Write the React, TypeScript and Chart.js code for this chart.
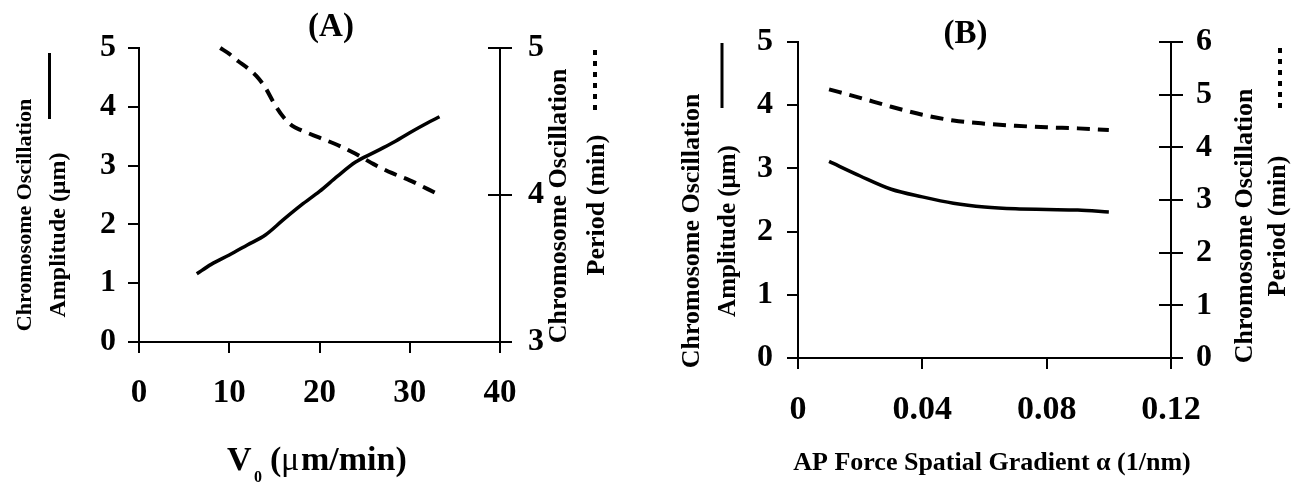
import React, { useEffect, useRef } from 'react';
import { Chart, registerables } from 'chart.js';

Chart.register(...registerables);

const FONT = "'Liberation Serif', 'Times New Roman', serif";

// ---- Panel A data ----
const v0Amp = [6.4, 8, 10, 12, 14, 16, 18, 20, 22, 24, 26, 28, 30, 32, 33.3];
const ampA = [1.16, 1.32, 1.48, 1.65, 1.82, 2.08, 2.33, 2.56, 2.82, 3.06, 3.22, 3.38, 3.56, 3.73, 3.83];
const v0Per = [9, 10, 11, 12, 13, 14, 15, 16, 17, 18, 20, 22, 24, 26, 28, 30, 32, 33.3];
const perA = [5.0, 4.96, 4.91, 4.865, 4.81, 4.73, 4.62, 4.53, 4.47, 4.44, 4.39, 4.34, 4.28, 4.21, 4.15, 4.1, 4.04, 4.0];
const xTicksA = ['0', '10', '20', '30', '40'];
const yTicksA = ['0', '1', '2', '3', '4', '5'];
const y2TicksA = ['3', '4', '5'];

// ---- Panel B data ----
const alphaB = [0.01, 0.02, 0.03, 0.04, 0.05, 0.06, 0.07, 0.08, 0.09, 0.1];
const ampB = [3.11, 2.88, 2.67, 2.55, 2.45, 2.39, 2.36, 2.35, 2.34, 2.31];
const perB = [5.1, 4.94, 4.77, 4.62, 4.51, 4.45, 4.41, 4.38, 4.36, 4.33];
const xTicksB = ['0', '0.04', '0.08', '0.12'];
const yTicksB = ['0', '1', '2', '3', '4', '5'];
const y2TicksB = ['0', '1', '2', '3', '4', '5', '6'];

const decor = {
  id: 'decor',
  afterDraw(chart: any, _args: any, opts: any) {
    const ctx = chart.ctx;
    ctx.save();
    ctx.fillStyle = '#000';
    ctx.strokeStyle = '#000';
    const s = chart.scales.y2;
    if (s) {
      ctx.lineWidth = 2;
      s.ticks.forEach((t: any) => {
        const y = Math.round(s.getPixelForValue(t.value));
        ctx.beginPath();
        ctx.moveTo(chart.chartArea.right - 12, y);
        ctx.lineTo(chart.chartArea.right, y);
        ctx.stroke();
      });
    }
    (opts.texts || []).forEach((t: any) => {
      ctx.save();
      ctx.font = `${t.weight || 'bold'} ${t.size}px ${FONT}`;
      ctx.textAlign = t.align || 'center';
      ctx.textBaseline = t.baseline || 'middle';
      ctx.translate(t.x, t.y);
      if (t.rot) ctx.rotate(-Math.PI / 2);
      ctx.fillText(t.text, 0, 0);
      ctx.restore();
    });
    (opts.bars || []).forEach((b: any) => {
      ctx.save();
      ctx.lineWidth = b.w;
      ctx.setLineDash(b.dash || []);
      ctx.beginPath();
      ctx.moveTo(b.x, b.y1);
      ctx.lineTo(b.x, b.y2);
      ctx.stroke();
      ctx.restore();
    });
    ctx.restore();
  },
};

function axis(opts: any) {
  return {
    type: 'linear',
    position: opts.position,
    min: opts.min,
    max: opts.max,
    border: { display: true, color: '#000', width: 2 },
    grid: {
      drawOnChartArea: false,
      drawTicks: true,
      tickLength: opts.tickLength ?? 11,
      tickWidth: 2,
      tickColor: '#000',
      color: '#000',
      lineWidth: 2,
    },
    ticks: {
      color: '#000',
      font: { family: FONT, weight: 'bold', size: opts.size },
      padding: opts.pad,
      stepSize: opts.step,
      autoSkip: false,
      maxRotation: 0,
      callback: (_v: any, i: number) => opts.labels[i],
    },
    afterFit: (scale: any) => {
      if (opts.width != null) scale.width = opts.width;
      if (opts.height != null) scale.height = opts.height;
    },
  };
}

function makeConfig(p: any) {
  return {
    type: 'line',
    data: {
      datasets: [
        {
          data: p.ampX.map((x: number, i: number) => ({ x, y: p.ampY[i] })),
          yAxisID: 'y',
          borderColor: '#000',
          borderWidth: 3.5,
          pointRadius: 0,
          cubicInterpolationMode: 'monotone',
          fill: false,
          clip: 8,
        },
        {
          data: p.perX.map((x: number, i: number) => ({ x, y: p.perY[i] })),
          yAxisID: 'y2',
          borderColor: '#000',
          borderWidth: 4,
          borderDash: [13, 8],
          pointRadius: 0,
          cubicInterpolationMode: 'monotone',
          fill: false,
          clip: 8,
        },
      ],
    },
    options: {
      animation: false,
      responsive: false,
      devicePixelRatio: 1,
      layout: { padding: { top: p.top, left: 0, right: 0, bottom: 0 } },
      plugins: {
        legend: { display: false },
        tooltip: { enabled: false },
        title: { display: false },
        decor: { texts: p.texts, bars: p.bars },
      },
      scales: {
        x: axis({ position: 'bottom', min: p.xMin, max: p.xMax, step: p.xStep, labels: p.xLabels, size: p.xSize, pad: p.xPad, height: p.xHeight }),
        y: axis({ position: 'left', min: p.yMin, max: p.yMax, step: 1, labels: p.yLabels, size: p.ySize, pad: p.yPad, width: p.yWidth }),
        y2: axis({ position: 'right', min: p.y2Min, max: p.y2Max, step: 1, labels: p.y2Labels, size: p.y2Size, pad: p.y2Pad, width: p.y2Width, tickLength: 12 }),
      },
    },
    plugins: [decor],
  };
}

export default function App() {
  const refA = useRef<HTMLCanvasElement>(null);
  const refB = useRef<HTMLCanvasElement>(null);

  useEffect(() => {
    const cfgA = makeConfig({
      ampX: v0Amp, ampY: ampA, perX: v0Per, perY: perA,
      top: 48,
      xMin: 0, xMax: 40, xStep: 10, xLabels: xTicksA, xSize: 33, xPad: 21, xHeight: 145,
      yMin: 0, yMax: 5, yLabels: yTicksA, ySize: 32, yPad: 12, yWidth: 139,
      y2Min: 3, y2Max: 5, y2Labels: y2TicksA, y2Size: 32, y2Pad: 16, y2Width: 140,
      texts: [
        { text: '(A)', x: 331, y: 27, size: 33 },
        { text: 'Chromosome Oscillation', x: 25, y: 215, size: 22, rot: true },
        { text: 'Amplitude (μm)', x: 59, y: 235, size: 24, rot: true },
        { text: 'Chromosome Oscillation', x: 559, y: 206, size: 26, rot: true },
        { text: 'Period (min)', x: 597, y: 205, size: 26, rot: true },
        { text: 'V', x: 227, y: 470, size: 34, align: 'left', baseline: 'alphabetic' },
        { text: '0', x: 254, y: 482, size: 16, align: 'left', baseline: 'alphabetic' },
        { text: '(', x: 270, y: 470, size: 34, align: 'left', baseline: 'alphabetic' },
        { text: 'μ', x: 281, y: 470, size: 34, align: 'left', baseline: 'alphabetic', weight: 'normal' },
        { text: 'm/min)', x: 301, y: 470, size: 34, align: 'left', baseline: 'alphabetic' },
      ],
      bars: [
        { x: 49.5, y1: 53, y2: 119, w: 3 },
        { x: 595, y1: 50, y2: 113, w: 4, dash: [5, 6] },
      ],
    });
    const cfgB = makeConfig({
      ampX: alphaB, ampY: ampB, perX: alphaB, perY: perB,
      top: 42,
      xMin: 0, xMax: 0.12, xStep: 0.04, xLabels: xTicksB, xSize: 34, xPad: 21, xHeight: 129,
      yMin: 0, yMax: 5, yLabels: yTicksB, ySize: 32, yPad: 14, yWidth: 158,
      y2Min: 0, y2Max: 6, y2Labels: y2TicksB, y2Size: 32, y2Pad: 13, y2Width: 131,
      texts: [
        { text: '(B)', x: 325.5, y: 34, size: 33 },
        { text: 'Chromosome Oscillation', x: 52, y: 231, size: 26, rot: true },
        { text: 'Amplitude (μm)', x: 89, y: 231, size: 25, rot: true },
        { text: 'Chromosome Oscillation', x: 605, y: 226, size: 26, rot: true },
        { text: 'Period (min)', x: 638, y: 226, size: 26, rot: true },
        { text: 'AP Force Spatial Gradient α (1/nm)', x: 352, y: 470, size: 26, baseline: 'alphabetic' },
      ],
      bars: [
        { x: 82, y1: 43, y2: 108, w: 3 },
        { x: 640, y1: 48, y2: 110, w: 4, dash: [5, 6] },
      ],
    });
    const a = new Chart(refA.current as HTMLCanvasElement, cfgA as any);
    const b = new Chart(refB.current as HTMLCanvasElement, cfgB as any);
    return () => {
      a.destroy();
      b.destroy();
    };
  }, []);

  return (
    <div style={{ position: 'absolute', left: 0, top: 0, width: 1302, height: 487, background: '#fff' }}>
      <canvas ref={refA} width={640} height={487} style={{ position: 'absolute', left: 0, top: 0, width: 640, height: 487 }} />
      <canvas ref={refB} width={662} height={487} style={{ position: 'absolute', left: 640, top: 0, width: 662, height: 487 }} />
    </div>
  );
}
